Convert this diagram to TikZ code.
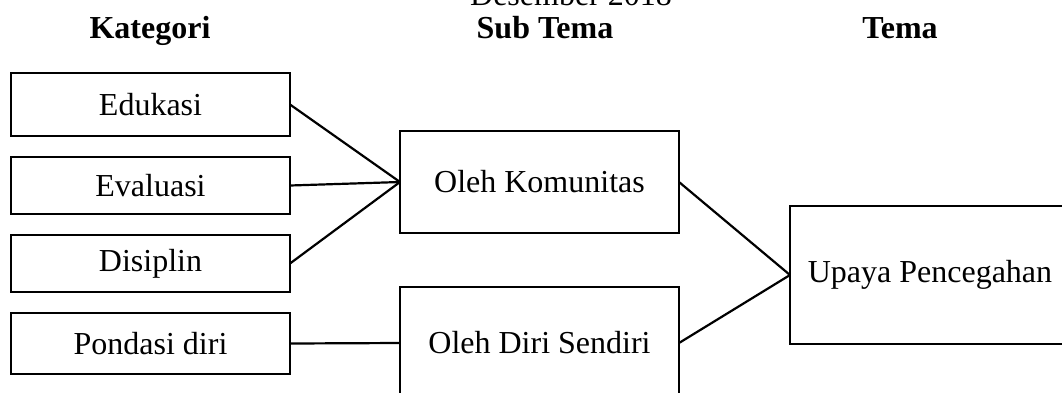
\documentclass[tikz,border=0pt]{standalone}
\usepackage{fontspec}
\setmainfont{Liberation Serif}
\begin{document}
\begin{tikzpicture}[x=1pt,y=-1pt,
  every node/.style={font=\fontsize{32}{38}\selectfont, outer sep=0pt, inner sep=0pt},
  catbox/.style={draw, line width=2.2pt, minimum width=279pt},
  head/.style={font=\fontsize{32}{38}\selectfont\bfseries, anchor=base},
  conn/.style={line width=2.2pt}]
\useasboundingbox (0,0) rectangle (1062,392);
\clip (0,0) rectangle (1062,392);
% headers
\node[anchor=base] (dec) at (571,5) {Desember 2018};
\node[head] (hkat) at (150,38) {Kategori};
\node[head] (hsub) at (545,38) {Sub Tema};
\node[head] (htema) at (900,38) {Tema};
% category boxes
\node[catbox, minimum height=63pt] (edu) at (150.5,104.5) {Edukasi};
\node[catbox, minimum height=57pt] (eva) at (150.5,185.5) {Evaluasi};
\node[catbox, minimum height=57pt] (dis) at (150.5,263.5) {Disiplin};
\node[catbox, minimum height=61pt] (pon) at (150.5,343.5) {Pondasi diri};
% sub theme boxes
\node[catbox, minimum height=102pt] (kom) at (539.5,182) {Oleh Komunitas};
\node[catbox, minimum height=112pt] (sen) at (539.5,343) {Oleh Diri Sendiri};
% theme box
\node[catbox, minimum width=280pt, minimum height=138pt] (upa) at (930,275) {Upaya Pencegahan};
% connectors
\draw[conn] (edu.east) -- (kom.west);
\draw[conn] (eva.east) -- (kom.west);
\draw[conn] (dis.east) -- (kom.west);
\draw[conn] (pon.east) -- (sen.west);
\draw[conn] (kom.east) -- (upa.west);
\draw[conn] (sen.east) -- (upa.west);
\end{tikzpicture}
\end{document}
